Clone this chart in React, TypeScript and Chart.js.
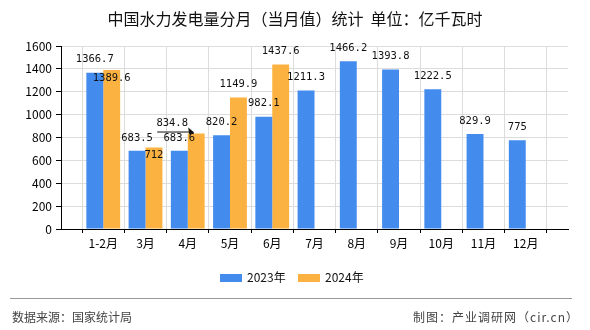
import React, { useEffect, useRef } from "react";
import { Chart, registerables } from "chart.js";

Chart.register(...registerables);

const categories = ["1-2月", "3月", "4月", "5月", "6月", "7月", "8月", "9月", "10月", "11月", "12月"];
const values2023 = [1366.7, 683.5, 683.6, 820.2, 982.1, 1211.3, 1466.2, 1393.8, 1222.5, 829.9, 775];
const values2024 = [1389.6, 712, 834.8, 1149.9, 1437.6];
const seriesNames = ["2023年", "2024年"];
const yMax = 1600;
const yStep = 200;

// label placement styles (per series, per category)
const placement2023 = categories.map(() => "top");
const placement2024 = ["inside", "inside", "shifted", "top", "top"];

const BLUE = "#438CEE";
const ORANGE = "#FCB241";
const FONT_CJK = '"Noto Sans CJK SC", "Noto Sans", sans-serif';

const labelPlugin = {
  id: "barLabels",
  afterDatasetsDraw(chart: any) {
    const ctx = chart.ctx;
    const placements = [placement2023, placement2024];
    ctx.save();
    ctx.font = '10.5px "DejaVu Sans Mono", monospace';
    ctx.fillStyle = "#111";
    ctx.textAlign = "center";
    ctx.textBaseline = "middle";
    chart.data.datasets.forEach((ds: any, i: number) => {
      const meta = chart.getDatasetMeta(i);
      meta.data.forEach((bar: any, j: number) => {
        const v = ds.data[j];
        if (v == null) return;
        const mode = placements[i][j - 1] || "top";
        const txt = String(v);
        const x = bar.x;
        const y = bar.y;
        if (mode === "inside") {
          ctx.fillText(txt, x, y + 8);
        } else if (mode === "shifted") {
          ctx.fillText(txt, x - 24, y - 10);
          ctx.strokeStyle = "#111";
          ctx.lineWidth = 1;
          ctx.beginPath();
          ctx.moveTo(x - 39, y - 1.5);
          ctx.lineTo(x - 6, y - 1.5);
          ctx.stroke();
          ctx.beginPath();
          ctx.moveTo(x - 8, y - 6);
          ctx.lineTo(x - 2, y - 1);
          ctx.lineTo(x - 7, y + 1);
          ctx.closePath();
          ctx.fill();
        } else {
          ctx.fillText(txt, x, y - 13);
        }
      });
    });
    ctx.restore();
  },
};

export default function App() {
  const ref = useRef<HTMLCanvasElement | null>(null);

  useEffect(() => {
    document.body.style.margin = "0";
    const labels = ["", ...categories, ""];
    const d2023 = [null, ...values2023, null];
    const d2024: (number | null)[] = [null, ...values2024];
    while (d2024.length < labels.length) d2024.push(null);

    const chart = new Chart(ref.current as HTMLCanvasElement, {
      type: "bar",
      data: {
        labels,
        datasets: [
          { label: seriesNames[0], data: d2023, backgroundColor: BLUE, categoryPercentage: 0.8, barPercentage: 1.0 },
          { label: seriesNames[1], data: d2024, backgroundColor: ORANGE, categoryPercentage: 0.8, barPercentage: 1.0 },
        ],
      },
      options: {
        animation: false,
        responsive: false,
        events: [],
        layout: { padding: { left: 0, right: 22, top: 46, bottom: 71 } },
        plugins: {
          legend: { display: false },
          title: { display: false },
          tooltip: { enabled: false },
        },
        scales: {
          x: {
            type: "category",
            offset: false,
            grid: { color: "#dcdcdc", tickColor: "#000", tickLength: 4, lineWidth: 1 },
            border: { color: "#000", width: 1 },
            ticks: {
              autoSkip: false,
              maxRotation: 0,
              minRotation: 0,
              padding: 3,
              color: "#000",
              font: { family: FONT_CJK, size: 12 },
            },
            afterFit(scale: any) {
              scale.height = 30;
            },
          },
          y: {
            min: 0,
            max: yMax,
            ticks: {
              stepSize: yStep,
              padding: 4,
              color: "#000",
              font: { family: FONT_CJK, size: 12 },
              callback: (v: any) => String(v),
            },
            grid: { color: "#dcdcdc", tickColor: "#000", tickLength: 5 },
            border: { color: "#000", width: 1 },
            afterFit(scale: any) {
              scale.width = 61;
            },
          },
        },
      },
      plugins: [labelPlugin],
    } as any);
    return () => chart.destroy();
  }, []);

  const abs = (s: React.CSSProperties): React.CSSProperties => ({ position: "absolute", ...s });

  return (
    <div style={{ position: "relative", width: 590, height: 330, background: "#fff", fontFamily: FONT_CJK, overflow: "hidden" }}>
      <canvas ref={ref} width={590} height={330} style={{ position: "absolute", left: 0, top: 0, width: 590, height: 330 }} />
      <div style={abs({ left: 0, top: 8, width: 590, textAlign: "center", fontSize: 16, lineHeight: "20px", color: "#111" })}>
        中国水力发电量分月（当月值）统计&nbsp;&nbsp;单位：亿千瓦时
      </div>
      <div style={abs({ left: 220, top: 274, width: 22, height: 8, background: BLUE })} />
      <div style={abs({ left: 247, top: 270, fontSize: 12, lineHeight: "14px", color: "#111" })}>{seriesNames[0]}</div>
      <div style={abs({ left: 298, top: 274, width: 22, height: 8, background: ORANGE })} />
      <div style={abs({ left: 325, top: 270, fontSize: 12, lineHeight: "14px", color: "#111" })}>{seriesNames[1]}</div>
      <div style={abs({ left: 10, top: 298, width: 562, height: 1, background: "#999" })} />
      <div style={abs({ left: 12, top: 310, fontSize: 12, lineHeight: "14px", color: "#444" })}>数据来源：国家统计局</div>
      <div style={abs({ right: 11, top: 310, fontSize: 12, lineHeight: "14px", color: "#444", letterSpacing: "1px" })}>制图：产业调研网（cir.cn）</div>
    </div>
  );
}
